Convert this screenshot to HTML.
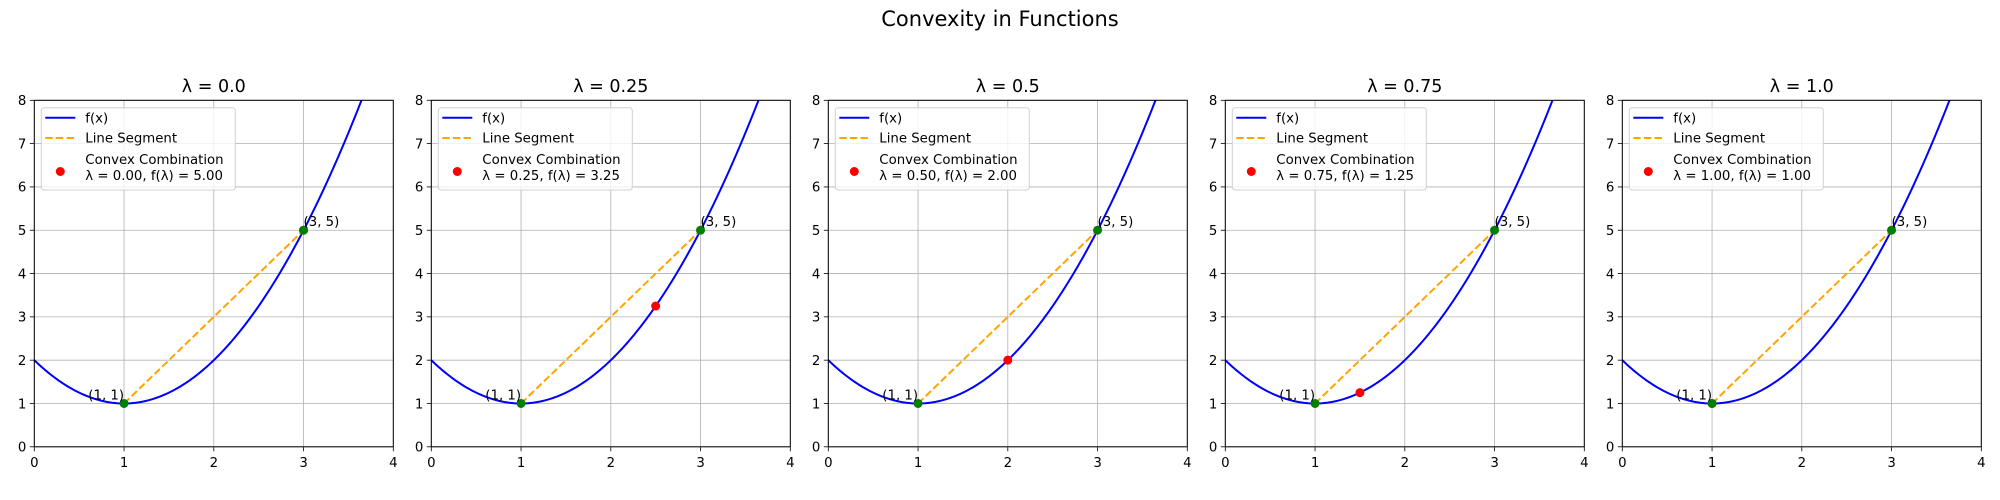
<!DOCTYPE html>
<html><head><meta charset="utf-8">
<style>
body{margin:0;background:#fff;}
svg{display:block;font-family:"DejaVu Sans","Liberation Sans",sans-serif;}
</style></head>
<body>
<svg id="fig" width="2000" height="500" viewBox="0 0 2000 500" xmlns="http://www.w3.org/2000/svg">
<rect width="2000" height="500" fill="#fff"/>
<text x="1000" y="26" text-anchor="middle" font-size="21">Convexity in Functions</text>
</svg>
<script>
const lambdas = [0.0, 0.25, 0.5, 0.75, 1.0];
const lambdaTitles = ["0.0", "0.25", "0.5", "0.75", "1.0"];
const pointA = [1, 1];
const pointB = [3, 5];
const xTicks = [0, 1, 2, 3, 4];
const yTicks = [0, 1, 2, 3, 4, 5, 6, 7, 8];
const curveCoef = [1, 1]; // f(x) = (x - c0)^2 + c1

const NS = "http://www.w3.org/2000/svg";
const svg = document.getElementById("fig");
function el(tag, attrs, parent) {
  const e = document.createElementNS(NS, tag);
  for (const k in attrs) e.setAttribute(k, attrs[k]);
  (parent || svg).appendChild(e);
  return e;
}
function f(x) { return (x - curveCoef[0]) ** 2 + curveCoef[1]; }

const W = 359, H = 346.5, TOP = 100.3, LEFT0 = 34.3, STEP = 397;
lambdas.forEach((lam, i) => {
  const L = LEFT0 + i * STEP;
  const sx = v => L + v / 4 * W;
  const sy = v => TOP + H - v / 8 * H;
  const g = el("g", {});
  
  
  const clipId = "clip" + i;
  const cp = el("clipPath", {id: clipId}, g);
  el("rect", {x: L, y: TOP, width: W, height: H}, cp);
  xTicks.forEach(t => {
    const ln = el("line", {x1: sx(t), x2: sx(t), y1: TOP, y2: TOP + H, stroke: "#b0b0b0", "stroke-width": 0.8}, g);
    
    
    const tk = el("line", {x1: sx(t), x2: sx(t), y1: TOP + H, y2: TOP + H + 4.5, stroke: "#000", "stroke-width": 0.8}, g);
    
    
    const tl = el("text", {x: sx(t), y: TOP + H + 20, "text-anchor": "middle", "font-size": 13.3}, g);
    tl.textContent = t;
    
    
  });
  yTicks.forEach(t => {
    const ln = el("line", {x1: L, x2: L + W, y1: sy(t), y2: sy(t), stroke: "#b0b0b0", "stroke-width": 0.8}, g);
    
    
    const tk = el("line", {x1: L - 4.5, x2: L, y1: sy(t), y2: sy(t), stroke: "#000", "stroke-width": 0.8}, g);
    
    
    const tl = el("text", {x: L - 8, y: sy(t) + 4.8, "text-anchor": "end", "font-size": 13.3}, g);
    tl.textContent = t;
    
    
  });
  let d = "";
  for (let k = 0; k <= 200; k++) {
    const x = 4 * k / 200;
    d += (k ? "L" : "M") + sx(x).toFixed(2) + "," + sy(f(x)).toFixed(2);
  }
  const cv = el("path", {d: d, fill: "none", stroke: "#0000ff", "stroke-width": 2, "clip-path": "url(#" + clipId + ")"}, g);
  
  
  const seg = el("line", {x1: sx(pointA[0]), y1: sy(pointA[1]), x2: sx(pointB[0]), y2: sy(pointB[1]), stroke: "#ffa500", "stroke-width": 2, "stroke-dasharray": "7.4,3.2"}, g);
  
  
  const cx = lam * pointA[0] + (1 - lam) * pointB[0];
  const rd = el("circle", {cx: sx(cx), cy: sy(f(cx)), r: 4.5, fill: "#ff0000"}, g);
  
  
  [pointA, pointB].forEach((p, j) => {
    const c = el("circle", {cx: sx(p[0]), cy: sy(p[1]), r: 4.5, fill: "#008000"}, g);
    
    
    const t = el("text", {x: sx(p[0]), y: sy(p[1]) - 4, "text-anchor": j ? "start" : "end", "font-size": 13.3}, g);
    t.textContent = "(" + p[0] + ", " + p[1] + ")";
    
    
  });
  const fr = el("rect", {x: L, y: TOP, width: W, height: H, fill: "none", stroke: "#000", "stroke-width": 1}, g);
  
  
  const ti = el("text", {x: L + W / 2, y: 92, "text-anchor": "middle", "font-size": 17.5}, g);
  ti.textContent = "λ = " + lambdaTitles[i];
  
  
  const lg = el("g", {}, g);
  
  
  el("rect", {x: L + 7, y: 107.7, width: 194, height: 82.3, rx: 3, fill: "#fff", "fill-opacity": 0.8, stroke: "#d0d0d0", "stroke-width": 1}, lg);
  el("line", {x1: L + 11, x2: L + 41, y1: 117.7, y2: 117.7, stroke: "#0000ff", "stroke-width": 2}, lg);
  el("line", {x1: L + 11, x2: L + 41, y1: 138, y2: 138, stroke: "#ffa500", "stroke-width": 2, "stroke-dasharray": "7.4,3.2"}, lg);
  el("circle", {cx: L + 26, cy: 171.5, r: 4.5, fill: "#ff0000"}, lg);
  const t1 = el("text", {x: L + 51, y: 122.5, "font-size": 13.3}, lg); t1.textContent = "f(x)";
  
  
  const t2 = el("text", {x: L + 51, y: 142.7, "font-size": 13.3}, lg); t2.textContent = "Line Segment";
  
  
  const t3 = el("text", {x: L + 51, y: 164, "font-size": 13.3}, lg); t3.textContent = "Convex Combination";
  
  
  const t4 = el("text", {x: L + 51, y: 180, "font-size": 13.3}, lg);
  t4.textContent = "λ = " + lam.toFixed(2) + ", f(λ) = " + f(cx).toFixed(2);
  
  
});
</script>
</body></html>
